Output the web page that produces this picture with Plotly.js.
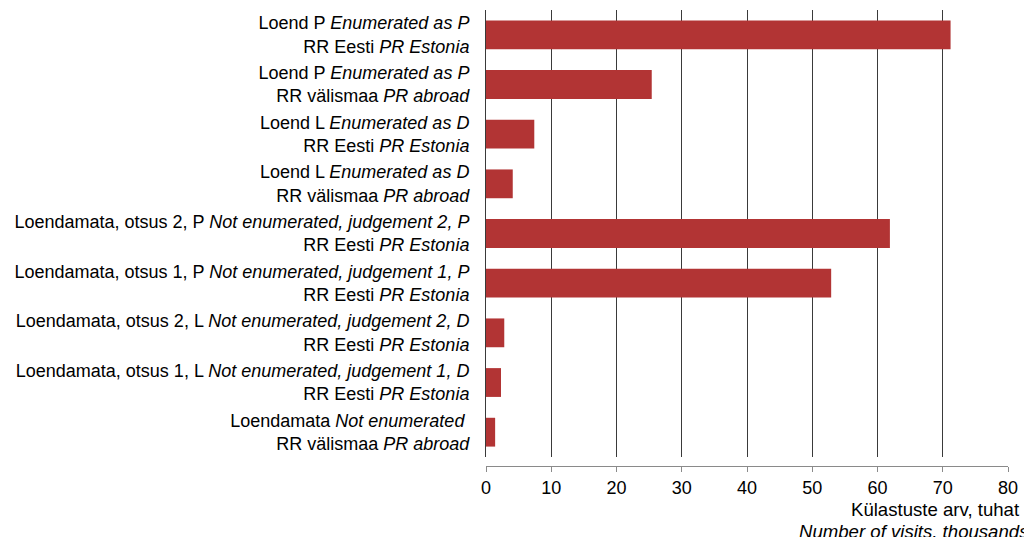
<!DOCTYPE html>
<html>
<head>
<meta charset="utf-8">
<script src="https://cdn.plot.ly/plotly-3.0.1.min.js"></script>
<style>html,body{margin:0;padding:0;background:#fff;}#chart{width:1024px;height:537px;}</style>
</head>
<body>
<div id="chart"></div>
<script>
const categories = [
  "Loend P <i>Enumerated as P</i><br>RR Eesti <i>PR Estonia</i>",
  "Loend P <i>Enumerated as P</i><br>RR välismaa <i>PR abroad</i>",
  "Loend L <i>Enumerated as D</i><br>RR Eesti <i>PR Estonia</i>",
  "Loend L <i>Enumerated as D</i><br>RR välismaa <i>PR abroad</i>",
  "Loendamata, otsus 2, P <i>Not enumerated, judgement 2, P</i><br>RR Eesti <i>PR Estonia</i>",
  "Loendamata, otsus 1, P <i>Not enumerated, judgement 1, P</i><br>RR Eesti <i>PR Estonia</i>",
  "Loendamata, otsus 2, L <i>Not enumerated, judgement 2, D</i><br>RR Eesti <i>PR Estonia</i>",
  "Loendamata, otsus 1, L <i>Not enumerated, judgement 1, D</i><br>RR Eesti <i>PR Estonia</i>",
  "Loendamata <i>Not enumerated </i><br>RR välismaa <i>PR abroad</i>"
];
const visits = [71.2, 25.4, 7.4, 4.1, 61.9, 52.9, 2.8, 2.3, 1.4];
const xTicks = [0, 10, 20, 30, 40, 50, 60, 70, 80];
const titleLine1 = "Külastuste arv, tuhat";
const titleLine2 = "<i>Number of visits, thousands</i>";

const font = {family: "Liberation Sans, Arial, sans-serif", size: 18, color: "#000"};
const titleFont = {family: "Liberation Sans, Arial, sans-serif", size: 18.6, color: "#000"};

Plotly.newPlot("chart", [{
  type: "bar",
  orientation: "h",
  x: visits,
  y: categories,
  marker: {color: "#B23434"},
  hoverinfo: "x+y"
}], {
  width: 1024, height: 537,
  margin: {l: 486, r: 16, t: 10, b: 71, pad: 0},
  paper_bgcolor: "#fff", plot_bgcolor: "#fff",
  font: font,
  bargap: 0.42,
  showlegend: false,
  xaxis: {
    range: [0, 80],
    tickvals: xTicks,
    ticktext: xTicks.map(String),
    showgrid: true, gridcolor: "#3a3a3a", gridwidth: 1,
    zeroline: false,
    showline: true, linecolor: "#8a8a8a", linewidth: 1,
    ticks: "outside", ticklen: 5, tickcolor: "#8a8a8a",
    anchor: "free", position: 0,
    tickfont: font
  },
  yaxis: {
    type: "category",
    autorange: "reversed",
    domain: [0.0197, 1],
    showgrid: false, zeroline: false, showline: true, linecolor: "#3a3a3a", linewidth: 1,
    ticks: "", ticklabelstandoff: 12,
    tickfont: font
  },
  annotations: [
    {text: titleLine1, xref: "paper", yref: "paper", x: (849-486)/522, y: -(509-466)/456, xanchor: "left", yanchor: "middle", showarrow: false, font: titleFont},
    {text: titleLine2, xref: "paper", yref: "paper", x: (797-486)/522, y: -(531-466)/456, xanchor: "left", yanchor: "middle", showarrow: false, font: titleFont}
  ]
}, {displayModeBar: false, staticPlot: true});
</script>
</body>
</html>
